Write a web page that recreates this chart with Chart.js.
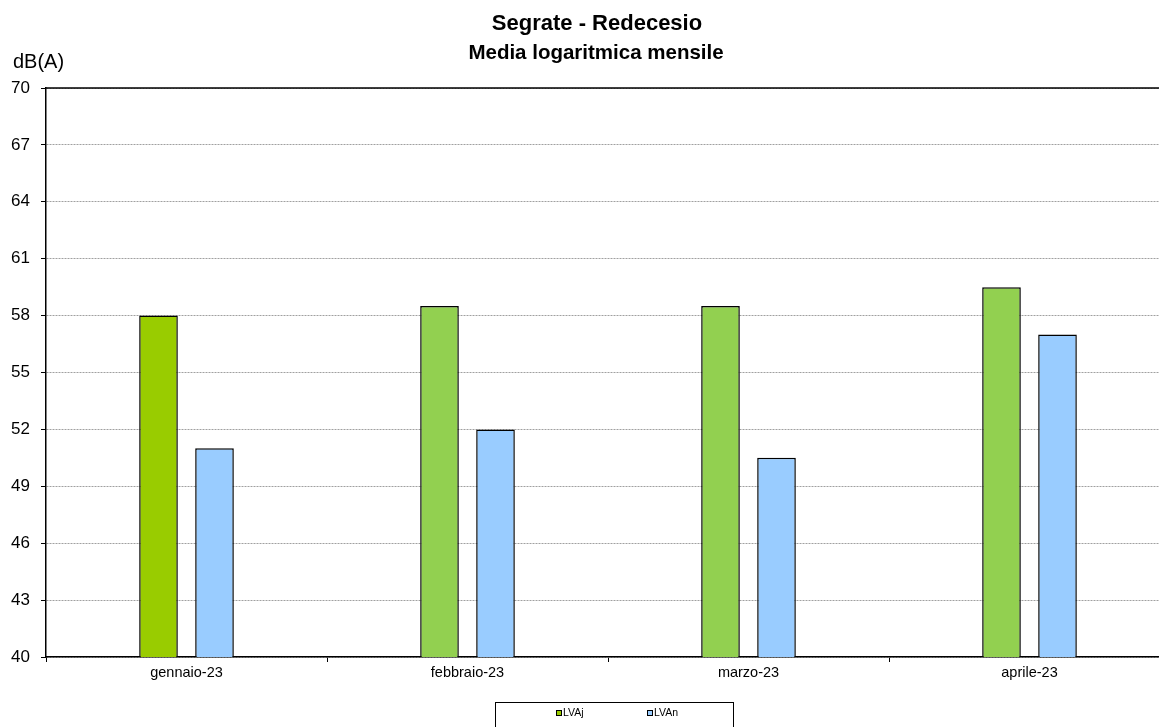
<!DOCTYPE html>
<html>
<head>
<meta charset="utf-8">
<script src="https://cdn.jsdelivr.net/npm/chart.js@4/dist/chart.umd.min.js"></script>
<style>
    html, body { margin: 0; padding: 0; background: #fff; overflow: hidden; }
    #wrap { width: 1190px; height: 727px; }
</style>
</head>
<body>
<div id="wrap"><canvas id="chart" width="1190" height="727"></canvas></div>
<script>
// Chart data
const titleText = 'Segrate - Redecesio';
const subtitleText = 'Media logaritmica mensile';
const unitText = 'dB(A)';
const months = ['gennaio-23', 'febbraio-23', 'marzo-23', 'aprile-23'];
const lvajValues = [58.0, 58.5, 58.5, 59.5];
const lvanValues = [51.0, 52.0, 50.5, 57.0];
const lvajColors = ['#99CC00', '#92D050', '#92D050', '#92D050'];
const lvanColor = '#99CCFF';
const yMin = 40, yMax = 70, yStep = 3;

const fontFamily = '"Liberation Sans", Arial, sans-serif';

// Extra drawing: titles, unit label, top border, framed legend
const extrasPlugin = {
    id: 'extras',
    afterDraw(chart) {
        const ctx = chart.ctx;
        const area = chart.chartArea;
        ctx.save();
        ctx.fillStyle = '#000';

        // titles
        ctx.textAlign = 'center';
        ctx.textBaseline = 'alphabetic';
        ctx.font = 'bold 22px ' + fontFamily;
        ctx.fillText(titleText, 597, 30);
        ctx.font = 'bold 20.5px ' + fontFamily;
        ctx.fillText(subtitleText, 596, 59);

        // unit label
        ctx.font = '20px ' + fontFamily;
        ctx.textAlign = 'left';
        ctx.fillText(unitText, 13, 68);

        // solid top line at 70
        ctx.strokeStyle = '#000';
        ctx.lineWidth = 1.5;
        ctx.beginPath();
        ctx.moveTo(area.left, area.top);
        ctx.lineTo(area.right, area.top);
        ctx.stroke();

        // legend frame
        ctx.lineWidth = 1;
        ctx.strokeRect(495.5, 702.5, 238, 40);

        // legend items
        const items = [
            { label: chart.data.datasets[0].label, color: lvajColors[0], x: 556 },
            { label: chart.data.datasets[1].label, color: lvanColor, x: 647 }
        ];
        ctx.font = '10.5px ' + fontFamily;
        ctx.textBaseline = 'middle';
        items.forEach(item => {
            ctx.fillStyle = item.color;
            ctx.fillRect(item.x, 710, 6, 6);
            ctx.strokeStyle = '#000';
            ctx.strokeRect(item.x + 0.5, 710.5, 5, 5);
            ctx.fillStyle = '#000';
            ctx.fillText(item.label, item.x + 7, 713.5);
        });

        ctx.restore();
    }
};

const ctx = document.getElementById('chart').getContext('2d');
new Chart(ctx, {
    type: 'bar',
    data: {
        labels: months,
        datasets: [
            {
                label: 'LVAj',
                data: lvajValues,
                backgroundColor: lvajColors,
                borderColor: '#000',
                borderWidth: 1.5,
                borderSkipped: false,
                categoryPercentage: 0.3986,
                barPercentage: 0.69
            },
            {
                label: 'LVAn',
                data: lvanValues,
                backgroundColor: lvanColor,
                borderColor: '#000',
                borderWidth: 1.5,
                borderSkipped: false,
                categoryPercentage: 0.3986,
                barPercentage: 0.69
            }
        ]
    },
    options: {
        responsive: false,
        animation: false,
        layout: { padding: { left: 0, right: 20, top: 88, bottom: 0 } },
        plugins: {
            legend: { display: false },
            tooltip: { enabled: false },
            title: { display: false }
        },
        scales: {
            x: {
                grid: {
                    offset: true,
                    drawOnChartArea: false,
                    tickLength: 5,
                    tickColor: '#000'
                },
                border: { display: true, color: '#000', width: 1.5 },
                ticks: {
                    color: '#000',
                    font: { family: fontFamily, size: 14.5 },
                    padding: 2,
                    maxRotation: 0
                },
                afterFit(scale) { scale.height = 70; }
            },
            y: {
                min: yMin,
                max: yMax,
                grid: {
                    color: '#a0a0a0',
                    lineWidth: 1,
                    tickLength: 5,
                    tickColor: '#000',
                    tickBorderDash: []
                },
                border: { display: true, color: '#000', width: 1.5, dash: [2, 1] },
                ticks: {
                    stepSize: yStep,
                    color: '#000',
                    font: { family: fontFamily, size: 17 },
                    padding: 11
                },
                afterFit(scale) { scale.width = 46; }
            }
        }
    },
    plugins: [extrasPlugin]
});
</script>
</body>
</html>
